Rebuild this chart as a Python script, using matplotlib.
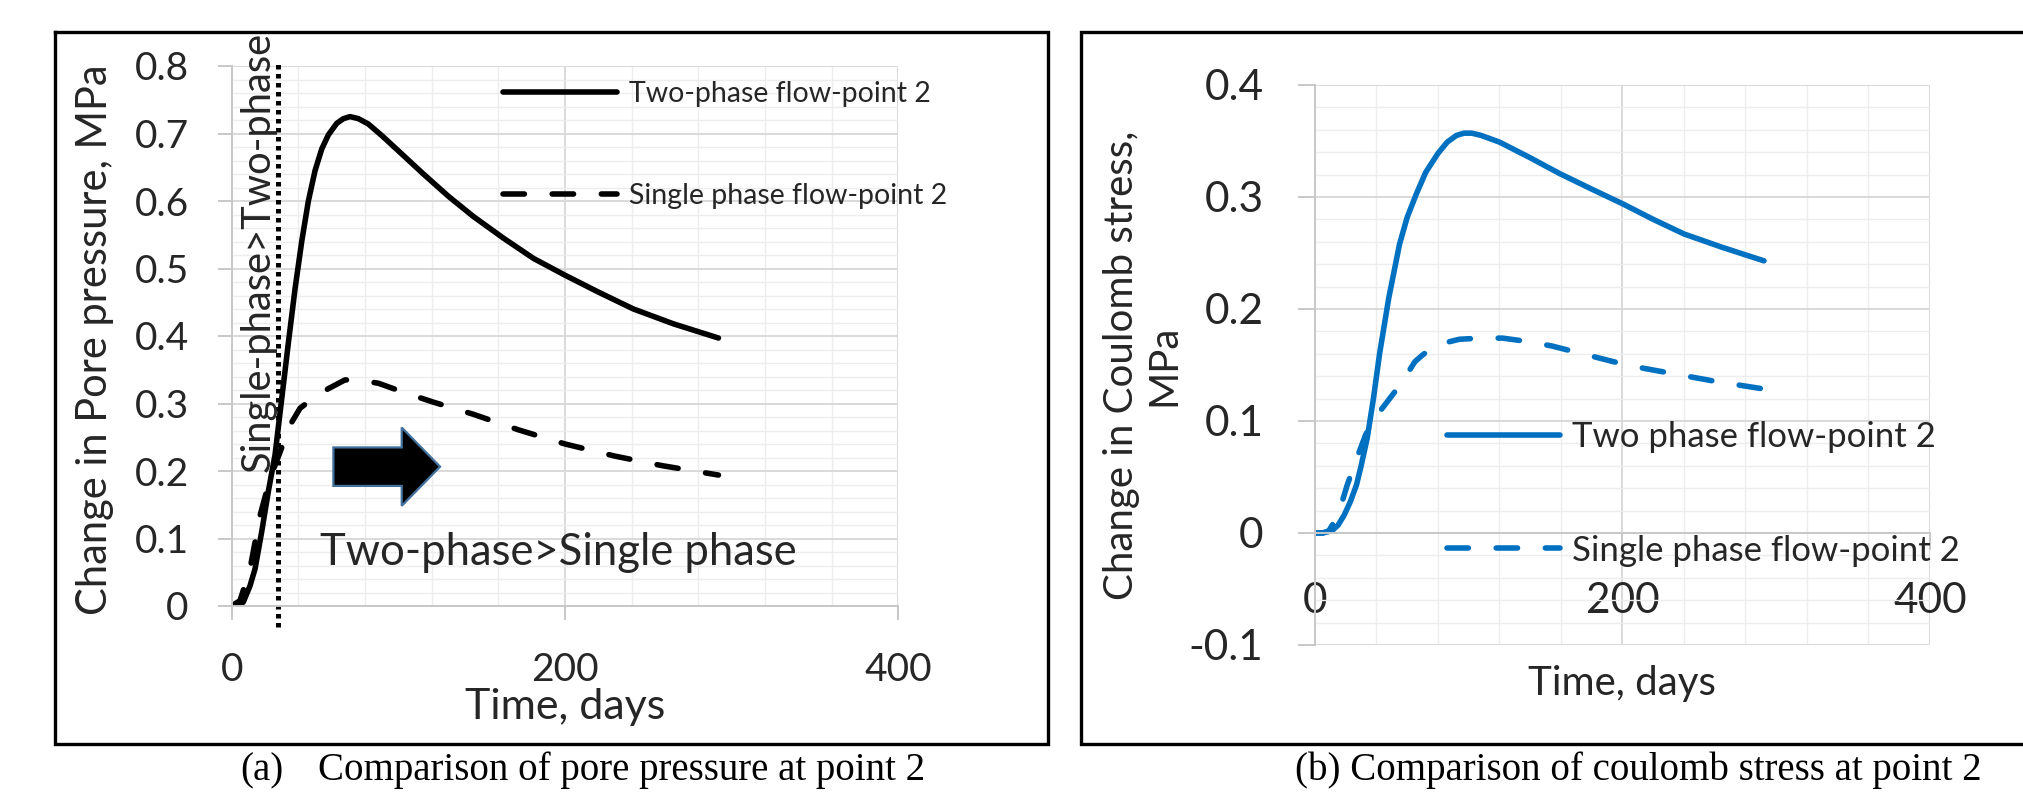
import matplotlib.pyplot as plt
import matplotlib.patches as mpatches
from matplotlib.lines import Line2D
from matplotlib.ticker import MultipleLocator

plt.rcParams['font.family'] = ['Lato', 'DejaVu Sans']

# (a) change in pore pressure at point 2, MPa
days_two_a = [0, 4, 7, 11, 14, 18, 22, 26, 30, 34, 38, 42, 46, 50, 54, 58, 63, 67, 71,
              76, 82, 90, 101, 115, 130, 145, 163, 181, 200, 220, 241, 265, 292]
pp_two_a = [0, 0, 0.006, 0.03, 0.055, 0.11, 0.17, 0.224, 0.307, 0.39, 0.47, 0.54, 0.6,
            0.645, 0.677, 0.698, 0.715, 0.722, 0.725, 0.722, 0.714, 0.697, 0.672, 0.64,
            0.607, 0.577, 0.545, 0.515, 0.49, 0.465, 0.44, 0.418, 0.397]
days_single_a = [0, 5, 11, 17, 23, 29, 35, 41, 50, 58, 68, 78, 88, 105, 121, 145, 172,
                 200, 230, 258, 292]
pp_single_a = [0, 0.008, 0.055, 0.134, 0.189, 0.228, 0.268, 0.293, 0.31, 0.322, 0.335,
               0.334, 0.33, 0.315, 0.302, 0.284, 0.261, 0.24, 0.222, 0.208, 0.194]
switch_day = 28

# (b) change in Coulomb stress at point 2, MPa
days_two_b = [0, 5, 11, 15, 19, 23, 27, 30, 34, 38, 42, 48, 55, 60, 66, 72, 80, 86, 92,
              97, 102, 108, 120, 140, 159, 180, 200, 220, 240, 265, 292]
cs_two_b = [0, 0, 0.002, 0.007, 0.016, 0.028, 0.043, 0.06, 0.085, 0.12, 0.16, 0.21,
            0.258, 0.282, 0.303, 0.322, 0.339, 0.349, 0.355, 0.357, 0.357, 0.355, 0.349,
            0.335, 0.321, 0.307, 0.294, 0.28, 0.267, 0.255, 0.243]
days_single_b = [0, 5, 9, 13, 17, 21, 27, 33, 38, 43, 48, 53, 59, 65, 70, 75, 85, 94,
                 108, 122, 138, 154, 174, 194, 214, 234, 262, 290]
cs_single_b = [0, 0, 0.002, 0.011, 0.025, 0.043, 0.066, 0.088, 0.1, 0.11, 0.119, 0.128,
               0.14, 0.153, 0.159, 0.164, 0.17, 0.173, 0.174, 0.174, 0.171, 0.167, 0.16,
               0.153, 0.147, 0.142, 0.135, 0.129]

x_ticks = [0, 200, 400]
x_tick_labels = ['0', '200', '400']
y_ticks_a = [0, 0.1, 0.2, 0.3, 0.4, 0.5, 0.6, 0.7, 0.8]
y_tick_labels_a = ['0', '0.1', '0.2', '0.3', '0.4', '0.5', '0.6', '0.7', '0.8']
y_ticks_b = [-0.1, 0, 0.1, 0.2, 0.3, 0.4]
y_tick_labels_b = ['-0.1', '0', '0.1', '0.2', '0.3', '0.4']

W, H = 2024, 794
TXT = '#262626'
BLUE = '#0070C0'
DASH = (0, (3.85, 5.0))


def px_rect(x0, y0, x1, y1):
    return [x0 / W, 1 - y1 / H, (x1 - x0) / W, (y1 - y0) / H]


def excel_axes(ax, ylim, yticks, ylabels, size, xpad, ypad, ticklen):
    ax.set_xlim(0, 400)
    ax.set_ylim(*ylim)
    ax.set_xticks(x_ticks, x_tick_labels)
    ax.set_yticks(yticks, ylabels)
    ax.xaxis.set_minor_locator(MultipleLocator(40))
    ax.yaxis.set_minor_locator(MultipleLocator(0.02))
    ax.grid(which='minor', color='#EDEDED', lw=1.0)
    ax.grid(which='major', color='#D9D9D9', lw=1.4)
    ax.set_axisbelow(True)
    for s in ['top', 'right']:
        ax.spines[s].set_visible(False)
    for s in ['left', 'bottom']:
        ax.spines[s].set_color('#C8C8C8')
        ax.spines[s].set_linewidth(1.4)
    ax.tick_params(which='major', direction='out', length=ticklen, width=1.4,
                   color='#C8C8C8', labelsize=size, labelcolor=TXT)
    ax.tick_params(axis='x', pad=xpad)
    ax.tick_params(axis='y', pad=ypad)
    ax.tick_params(which='minor', length=0)


fig = plt.figure(figsize=(W / 100, H / 100), dpi=100)

# ---------- panel (a) ----------
ax1 = fig.add_axes(px_rect(231.7, 66, 898.5, 606))
excel_axes(ax1, (0, 0.8), y_ticks_a, y_tick_labels_a, 28, 23, 21, 10)
ax1.plot(days_two_a, pp_two_a, color='black', lw=4.0, solid_joinstyle='round',
         solid_capstyle='round', label='Two-phase flow-point 2')
ax1.plot(days_single_a, pp_single_a, color='black', lw=4.0, ls=DASH,
         dash_capstyle='round', label='Single phase flow-point 2')
ax1.axvline(switch_day, ymin=-0.039, ymax=1.008, clip_on=False, color='black',
            lw=3.6, ls=(0, (0.9, 0.9)))
ax1.add_patch(mpatches.FancyArrow(61, 0.2064, 64, 0, width=0.057, head_width=0.116,
                                  head_length=23, length_includes_head=True,
                                  fc='black', ec='#41719C', lw=1.6))
ax1.text(53, 0.061, 'Two-phase>Single phase', fontsize=31.4, va='baseline', color=TXT)
ax1.text(23, 0.199, 'Single-phase>Two-phase', rotation=90, rotation_mode='anchor',
         ha='left', va='baseline', fontsize=28.7, color=TXT, clip_on=False)
ax1.set_ylabel('Change in Pore pressure, MPa', fontsize=30, color=TXT, va='center')
ax1.yaxis.set_label_coords(-0.205, 0.494)
ax1.set_xlabel('Time, days', fontsize=31, color=TXT, va='center')
ax1.xaxis.set_label_coords(0.5, -0.187)
ax1.legend(loc='center left', bbox_to_anchor=(503 / W, 1 - 145 / H),
           bbox_transform=fig.transFigure, frameon=False, fontsize=20.5,
           handlelength=4.0, labelspacing=2.69, handletextpad=0.42,
           borderpad=0, borderaxespad=0, labelcolor=TXT)

# ---------- panel (b) ----------
ax2 = fig.add_axes(px_rect(1315, 85, 1930, 645))
excel_axes(ax2, (-0.1, 0.4), y_ticks_b, y_tick_labels_b, 30.5, 23, 25, 12)
ax2.spines['bottom'].set_position(('data', 0))
ax2.plot(days_two_b, cs_two_b, color=BLUE, lw=4.0, solid_joinstyle='round',
         solid_capstyle='round', label='Two phase flow-point 2')
ax2.plot(days_single_b, cs_single_b, color=BLUE, lw=4.0, ls=DASH,
         dash_capstyle='round', label='Single phase flow-point 2')
ax2.set_ylabel('Change in Coulomb stress,\nMPa', fontsize=29, color=TXT,
               va='center', ha='center')
ax2.yaxis.set_label_coords(-0.28, 0.5)
ax2.set_xlabel('Time, days', fontsize=29, color=TXT, va='center')
ax2.xaxis.set_label_coords(0.5, -0.068)
ax2.legend(loc='center left', bbox_to_anchor=(1447 / W, 1 - 494 / H),
           bbox_transform=fig.transFigure, frameon=False, fontsize=25,
           handlelength=3.26, labelspacing=2.34, handletextpad=0.35,
           borderpad=0, borderaxespad=0, labelcolor=TXT)


# ---------- frames and captions ----------
def fig_line(xs, ys, **kw):
    fig.add_artist(Line2D([x / W for x in xs], [1 - y / H for y in ys],
                          transform=fig.transFigure, **kw))


fig_line([55, 1048, 1048, 55, 55], [31.7, 31.7, 744, 744, 31.7], color='black',
         lw=2.4, solid_joinstyle='miter')
fig_line([2030, 1081, 1081, 2030], [31.7, 31.7, 744, 744], color='black', lw=2.4,
         solid_joinstyle='miter')

cap = dict(fontsize=28, family='Liberation Serif', va='baseline', color='black')
fig.text(240 / W, 1 - 780 / H, '(a)', **cap)
fig.text(318 / W, 1 - 780 / H, 'Comparison of pore pressure at point 2', **cap)
fig.text(1295 / W, 1 - 780 / H, '(b) Comparison of coulomb stress at point 2', **cap)

fig.savefig('out.png', dpi=100)
